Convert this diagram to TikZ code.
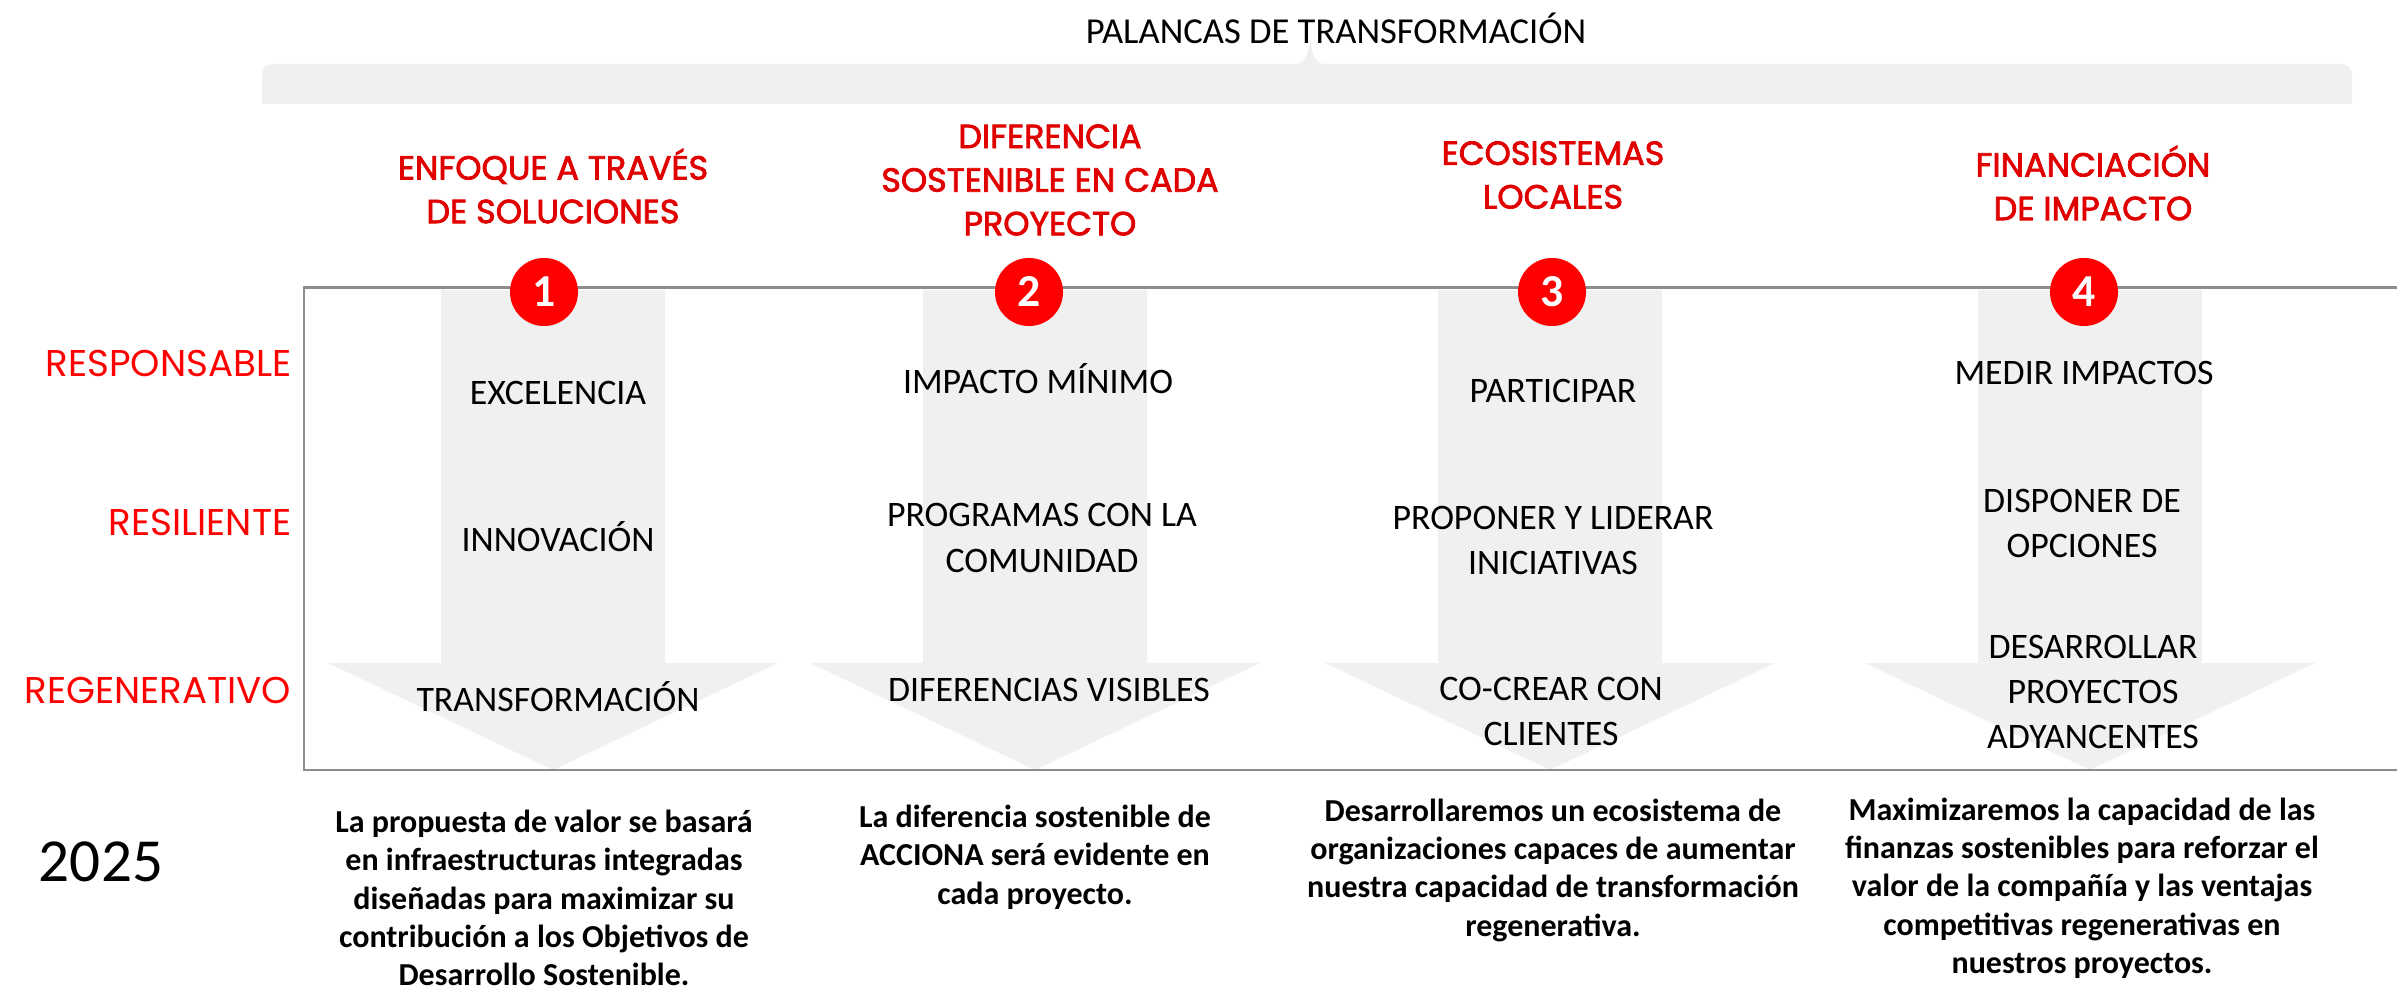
\documentclass[tikz,border=0pt]{standalone}
\usepackage{fontspec}
\setmainfont{Carlito}
\newfontfamily\geofont{Poppins}
\newfontfamily\leverfont{Poppins}[FakeBold=2.2]
\definecolor{headred}{HTML}{E00000}
\definecolor{lblred}{HTML}{FF0000}
\definecolor{levergray}{HTML}{F0F0F0}
\definecolor{framegray}{HTML}{8C8C8C}

\begin{document}
\begin{tikzpicture}[x=0.01cm,y=-0.01cm,
  every node/.style={inner sep=0pt},
  item/.style={align=center,font=\fontsize{10.2}{12.8}\selectfont},
  lever/.style={align=center,text=headred,font=\leverfont\fontsize{9.5}{12.4}\selectfont},
  level/.style={anchor=east,text=lblred,font=\geofont\fontsize{10.6}{12}\selectfont},
  goal/.style={align=center,font=\bfseries\fontsize{9.1}{10.9}\selectfont},
  badge/.style={circle,fill=lblred,minimum size=0.68cm,text=white,font=\bfseries\fontsize{13}{13}\selectfont}]
\useasboundingbox (0,0) rectangle (2397,989);

% brace over the four levers
\fill [levergray] (262,104) -- (262,80) .. controls (262,66) and (265,64) .. (280,64)
  -- (1295,64) .. controls (1305,64) and (1308,55) .. (1310,38)
  .. controls (1312,55) and (1315,64) .. (1325,64)
  -- (2335,64) .. controls (2350,64) and (2352,66) .. (2352,80) -- (2352,104) -- cycle;
\node (title) at (1336,28) {\fontsize{10.4}{12}\selectfont PALANCAS DE TRANSFORMACIÓN};

% big down arrows
\foreach \cx in {553,1035,1550,2090}
  \fill [levergray] (\cx-112,290) -- (\cx+112,290) -- (\cx+112,663) -- (\cx+225,663)
    -- (\cx,770) -- (\cx-225,663) -- (\cx-112,663) -- cycle;

% frame
\draw [framegray, line width=0.85pt] (2397,288) -- (304,288) -- (304,770) -- (2397,770);

% lever titles
\node [lever] (lev1) at (553,186) {ENFOQUE A TRAVÉS\\DE SOLUCIONES};
\node [lever] (lev2) at (1050,180) {DIFERENCIA\\SOSTENIBLE EN CADA\\PROYECTO};
\node [lever] (lev3) at (1553,175) {ECOSISTEMAS\\LOCALES};
\node [lever] (lev4) at (2093,183) {FINANCIACIÓN\\DE IMPACTO};

\node [badge] (b1) at (544,292) {1};
\node [badge] (b2) at (1029,292) {2};
\node [badge] (b3) at (1552,292) {3};
\node [badge] (b4) at (2084,292) {4};

% levels
\node [level] (resp) at (292,363) {RESPONSABLE};
\node [level] (resil) at (292,522) {RESILIENTE};
\node [level] (regen) at (292,690) {REGENERATIVO};

% column 1
\node [item] (c1a) at (558,393) {EXCELENCIA};
\node [item] (c1b) at (558,537) {INNOVACIÓN};
\node [item] (c1c) at (558,697) {TRANSFORMACIÓN};
% column 2
\node [item] (c2a) at (1038,379) {IMPACTO MÍNIMO};
\node [item] (c2b) at (1042,538) {PROGRAMAS CON LA\\COMUNIDAD};
\node [item] (c2c) at (1049,690) {DIFERENCIAS VISIBLES};
% column 3
\node [item] (c3a) at (1553,391) {PARTICIPAR};
\node [item] (c3b) at (1553,540) {PROPONER Y LIDERAR\\INICIATIVAS};
\node [item] (c3c) at (1551,711) {CO-CREAR CON\\CLIENTES};
% column 4
\node [item] (c4a) at (2084,373) {MEDIR IMPACTOS};
\node [item] (c4b) at (2082,523) {DISPONER DE\\OPCIONES};
\node [item] (c4c) at (2093,692) {DESARROLLAR\\PROYECTOS\\ADYANCENTES};

% 2025 goals
\node (year) at (101,862) {\fontsize{17.4}{20}\selectfont 2025};
\node [goal] (g1) at (544,898) {La propuesta de valor se basará\\en infraestructuras integradas\\diseñadas para maximizar su\\contribución a los Objetivos de\\Desarrollo Sostenible.};
\node [goal] (g2) at (1035,857) {La diferencia sostenible de\\ACCIONA será evidente en\\cada proyecto.};
\node [goal] (g3) at (1553,870) {Desarrollaremos un ecosistema de\\organizaciones capaces de aumentar\\nuestra capacidad de transformación\\regenerativa.};
\node [goal] (g4) at (2082,888) {Maximizaremos la capacidad de las\\finanzas sostenibles para reforzar el\\valor de la compañía y las ventajas\\competitivas regenerativas en\\nuestros proyectos.};
\end{tikzpicture}
\end{document}
